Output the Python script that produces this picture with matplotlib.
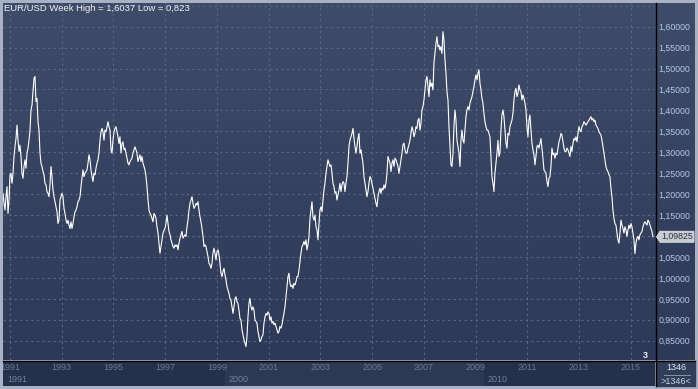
import numpy as np
import pandas as pd
import matplotlib
matplotlib.use("Agg")
import matplotlib.pyplot as plt
import matplotlib.transforms as mtransforms
from matplotlib.colors import LinearSegmentedColormap
from matplotlib.lines import Line2D
from matplotlib.patches import Rectangle, Polygon
from matplotlib.ticker import FuncFormatter

W, H = 698, 389
plt.rcParams["font.family"] = ["Liberation Sans", "DejaVu Sans"]

# ========= EUR/USD (about two weeks per point) =========
rate_1990_95 = [
    1.202, 1.178, 1.162, 1.194, 1.218, 1.154, 1.186, 1.246, 1.250, 1.226,
    1.250, 1.290, 1.314, 1.333, 1.365, 1.329, 1.302, 1.317, 1.290, 1.250,
    1.238, 1.266, 1.282, 1.262, 1.298, 1.310, 1.329, 1.353, 1.401, 1.413,
    1.445, 1.477, 1.481, 1.421, 1.429, 1.373, 1.353, 1.298, 1.274, 1.266,
    1.254, 1.246, 1.226, 1.222, 1.206, 1.202, 1.194, 1.222, 1.266, 1.242,
    1.210, 1.194, 1.182, 1.170, 1.158, 1.130, 1.138, 1.186, 1.194, 1.202,
    1.194, 1.166, 1.154, 1.138, 1.130, 1.138, 1.126, 1.118, 1.134, 1.118,
    1.130, 1.146, 1.158, 1.162, 1.170, 1.182, 1.186, 1.194, 1.218, 1.238,
    1.258, 1.242, 1.250, 1.254, 1.258, 1.274, 1.294, 1.282, 1.258, 1.242,
    1.230, 1.250, 1.246, 1.262, 1.274, 1.282, 1.298, 1.329, 1.349, 1.357,
    1.349, 1.329, 1.353, 1.349, 1.361, 1.373, 1.361, 1.353, 1.306, 1.298,
    1.329, 1.349,
]
rate_1995_99 = [
    1.357, 1.361, 1.349, 1.337, 1.321, 1.337, 1.298, 1.321, 1.325, 1.306,
    1.310, 1.298, 1.286, 1.274, 1.270, 1.278, 1.282, 1.286, 1.298, 1.306,
    1.313, 1.306, 1.298, 1.278, 1.286, 1.294, 1.278, 1.290, 1.274, 1.266,
    1.258, 1.242, 1.218, 1.186, 1.162, 1.154, 1.150, 1.142, 1.134, 1.154,
    1.150, 1.142, 1.122, 1.107, 1.083, 1.059, 1.075, 1.091, 1.107, 1.114,
    1.118, 1.130, 1.150, 1.130, 1.111, 1.103, 1.091, 1.083, 1.075, 1.071,
    1.079, 1.075, 1.079, 1.067, 1.083, 1.095, 1.103, 1.111, 1.095, 1.099,
    1.103, 1.099, 1.122, 1.138, 1.162, 1.178, 1.186, 1.194, 1.178, 1.166,
    1.170, 1.178, 1.174, 1.182, 1.162, 1.146, 1.134, 1.118, 1.099, 1.075,
    1.079, 1.075, 1.063, 1.051, 1.035, 1.031, 1.023, 1.035, 1.059, 1.071,
    1.059, 1.043, 1.063, 1.067,
]
rate_1999_03 = [
    1.055, 1.035, 1.011, 1.003, 1.015, 1.023, 1.007, 0.995, 0.979, 0.971,
    0.963, 0.951, 0.947, 0.931, 0.915, 0.931, 0.951, 0.955, 0.943, 0.939,
    0.923, 0.903, 0.899, 0.876, 0.864, 0.852, 0.844, 0.836, 0.860, 0.907,
    0.939, 0.951, 0.931, 0.923, 0.931, 0.923, 0.899, 0.896, 0.892, 0.872,
    0.860, 0.848, 0.852, 0.860, 0.864, 0.892, 0.907, 0.915, 0.911, 0.919,
    0.915, 0.899, 0.907, 0.892, 0.896, 0.888, 0.892, 0.884, 0.876, 0.868,
    0.872, 0.884, 0.880, 0.888, 0.903, 0.915, 0.931, 0.955, 0.979, 1.003,
    1.011, 0.987, 0.979, 0.983, 0.975, 0.987, 0.983, 0.991, 1.003, 1.003,
    1.019, 1.039, 1.059, 1.075, 1.079, 1.087, 1.079, 1.091, 1.067, 1.079,
    1.099, 1.142, 1.162, 1.182, 1.146, 1.138, 1.150, 1.122, 1.115, 1.091,
    1.130, 1.162, 1.170, 1.158, 1.186, 1.210,
]
rate_2003_07 = [
    1.226, 1.250, 1.266, 1.282, 1.274, 1.266, 1.270, 1.250, 1.226, 1.218,
    1.202, 1.206, 1.186, 1.198, 1.210, 1.226, 1.206, 1.222, 1.230, 1.226,
    1.206, 1.226, 1.242, 1.274, 1.314, 1.329, 1.337, 1.345, 1.357, 1.333,
    1.314, 1.298, 1.314, 1.333, 1.345, 1.298, 1.306, 1.290, 1.274, 1.242,
    1.226, 1.210, 1.194, 1.206, 1.226, 1.242, 1.238, 1.226, 1.214, 1.202,
    1.190, 1.178, 1.170, 1.194, 1.206, 1.214, 1.202, 1.214, 1.210, 1.222,
    1.214, 1.226, 1.250, 1.290, 1.282, 1.274, 1.254, 1.274, 1.282, 1.266,
    1.286, 1.282, 1.274, 1.266, 1.250, 1.266, 1.282, 1.298, 1.318, 1.322,
    1.306, 1.298, 1.298, 1.310, 1.318, 1.329, 1.345, 1.361, 1.353, 1.337,
    1.345, 1.361, 1.357, 1.377, 1.381, 1.353, 1.369, 1.401, 1.409, 1.425,
    1.449, 1.473, 1.481, 1.457, 1.433,
]
rate_2007_11 = [
    1.473, 1.457, 1.465, 1.449, 1.513, 1.536, 1.560, 1.576, 1.552, 1.556,
    1.544, 1.552, 1.536, 1.588, 1.568, 1.521, 1.489, 1.445, 1.425, 1.361,
    1.314, 1.270, 1.266, 1.298, 1.361, 1.401, 1.377, 1.329, 1.314, 1.298,
    1.266, 1.329, 1.353, 1.329, 1.322, 1.353, 1.385, 1.401, 1.409, 1.401,
    1.417, 1.425, 1.433, 1.445, 1.457, 1.473, 1.485, 1.473, 1.489, 1.497,
    1.465, 1.449, 1.429, 1.417, 1.393, 1.373, 1.361, 1.353, 1.353, 1.345,
    1.337, 1.290, 1.242, 1.226, 1.206, 1.250, 1.274, 1.298, 1.329, 1.290,
    1.298, 1.353, 1.389, 1.401, 1.385, 1.353, 1.322, 1.310, 1.345, 1.341,
    1.361, 1.369, 1.377, 1.393, 1.425, 1.445, 1.453, 1.433, 1.441, 1.461,
    1.449, 1.445, 1.425, 1.437, 1.429, 1.417, 1.401, 1.361, 1.337, 1.377,
    1.389, 1.353, 1.322, 1.306, 1.294,
]
rate_2011_15 = [
    1.270, 1.290, 1.314, 1.317, 1.310, 1.321, 1.333, 1.310, 1.286, 1.258,
    1.254, 1.250, 1.230, 1.218, 1.238, 1.242, 1.266, 1.310, 1.294, 1.298,
    1.286, 1.298, 1.294, 1.310, 1.325, 1.333, 1.345, 1.341, 1.325, 1.310,
    1.302, 1.302, 1.310, 1.306, 1.298, 1.290, 1.314, 1.302, 1.321, 1.333,
    1.329, 1.337, 1.325, 1.345, 1.361, 1.353, 1.349, 1.361, 1.365, 1.373,
    1.369, 1.365, 1.369, 1.373, 1.377, 1.381, 1.385, 1.377, 1.381, 1.373,
    1.377, 1.365, 1.361, 1.357, 1.349, 1.345, 1.341, 1.329, 1.314, 1.298,
    1.282, 1.266, 1.258, 1.254, 1.246, 1.242, 1.214, 1.194, 1.162, 1.142,
    1.130, 1.126, 1.107, 1.091, 1.083, 1.107, 1.138, 1.126, 1.118, 1.107,
    1.122, 1.115, 1.099, 1.115, 1.126, 1.118, 1.130, 1.122, 1.107, 1.091,
    1.058, 1.083, 1.095, 1.099, 1.091, 1.103, 1.107, 1.111, 1.122, 1.130,
    1.134, 1.130, 1.126, 1.138, 1.134, 1.126, 1.118, 1.111, 1.09825,
]

rate = rate_1990_95 + rate_1995_99 + rate_1999_03 + rate_2003_07 + rate_2007_11 + rate_2011_15
dates = pd.date_range("1990-09-24", "2015-11-11", periods=len(rate))

TITLE = "EUR/USD Week High = 1,6037 Low = 0,823"
year_ticks = list(range(1991, 2016, 2))
y_ticks = np.round(np.arange(0.85, 1.651, 0.05), 2)
# decade blocks in the lower strip: (start, label)
decades = [("1990-09-24", "1991"), ("1999-04-22", "2000"), ("2009-04-30", "2010")]
decade_colors = ["#25304a", "#2c3854", "#25304a"]
bar_count = "1346"
last_price = rate[-1]


def fx(px):
    return px / W


def fy(py):
    return 1 - py / H


def price_fmt(v, pos):
    # nothing above the top label, and the tick hidden under the price tag
    if v > 1.601 or abs(v - last_price) < 0.02:
        return ""
    return f"{v:.5f}".replace(".", ",")


fig = plt.figure(figsize=(W / 100, H / 100), dpi=100)
fig.patch.set_facecolor("#a9b2c4")

# gradient background behind chart + price column
bg = fig.add_axes([fx(3), fy(360), fx(695) - fx(3), fy(3) - fy(360)])
cmap = LinearSegmentedColormap.from_list("bg", ["#3f4c69", "#2d3956"])
bg.imshow(np.linspace(0, 1, 256).reshape(-1, 1), cmap=cmap, aspect="auto", extent=[0, 1, 0, 1])
bg.set_axis_off()

# ---------- main chart ----------
ax = fig.add_axes([fx(3), fy(360), fx(655) - fx(3), fy(3) - fy(360)])
ax.patch.set_alpha(0)
ax.plot(dates, rate, color="white", lw=0.8, zorder=3)

x0, x1 = pd.Timestamp("1990-09-24"), pd.Timestamp("2015-12-10")
ax.set_xlim(x0, x1)
ax.set_ylim(0.8039, 1.6566)
ax.set_xticks([pd.Timestamp(f"{y}-01-01") for y in year_ticks])
ax.set_yticks(y_ticks)
ax.yaxis.set_major_formatter(FuncFormatter(price_fmt))
ax.yaxis.tick_right()
ax.tick_params(axis="y", length=0, pad=2.3, labelsize=6.3, labelcolor="#b3c8e4")
ax.tick_params(axis="x", length=0, labelbottom=False)
ax.grid(True, color="#5a6783", ls=(0, (2, 3)), lw=0.8)
for s in ax.spines.values():
    s.set_visible(False)

# ---------- bottom time strip ----------
band = fig.add_axes([fx(3), fy(386), fx(655) - fx(3), fy(361) - fy(386)])
band.set_xlim(x0, x1)
band.set_ylim(0, 1)
band.set_axis_off()
edges = [pd.Timestamp(d) for d, _ in decades] + [x1]
for (start, lab), c, e in zip(decades, decade_colors, edges[1:]):
    band.axvspan(pd.Timestamp(start), e, color=c, zorder=0)
    tr = mtransforms.blended_transform_factory(band.transData, band.transAxes) + \
        mtransforms.ScaledTranslation(4 / 100, 0, fig.dpi_scale_trans)
    band.text(pd.Timestamp(start), 0.24, lab, transform=tr, fontsize=6.5,
              color="#75829a", ha="left", va="center")
for y in year_ticks:
    band.text(pd.Timestamp(f"{y}-01-01"), 0.72, str(y), fontsize=6.5, color="#6c7991",
              ha="center", va="center", clip_on=True)

# bar counter box
fig.add_artist(Rectangle((fx(656), fy(386)), fx(695) - fx(656), fy(361) - fy(386),
                         transform=fig.transFigure, color="#313e5a", zorder=1))
fig.text(fx(676), fy(368), bar_count, fontsize=6.5, color="#dfe5ee", ha="center", va="center")
fig.add_artist(Line2D([fx(664), fx(690)], [fy(374.5)] * 2, transform=fig.transFigure,
                      color="#8994a8", lw=0.7))
fig.text(fx(676), fy(381), f">{bar_count}<", fontsize=6.5, color="#c9d2df", ha="center", va="center")

# black separators
fig.add_artist(Line2D([fx(655.5)] * 2, [fy(3), fy(386)], transform=fig.transFigure, color="black", lw=1))
fig.add_artist(Line2D([fx(3), fx(695)], [fy(360.5)] * 2, transform=fig.transFigure, color="black", lw=1))

# title and marker count
fig.text(fx(4), fy(8.5), TITLE, fontsize=6.8, color="#eef1f6", ha="left", va="center")
fig.text(fx(645), fy(355), "3", fontsize=6.5, color="#f0f0f0", ha="center", va="center", weight="bold")

# last price tag
fig.canvas.draw()
yc = ax.transData.transform((0, last_price))[1]
tag = Polygon([(656.5, yc), (660, yc + 5.5), (694, yc + 5.5), (694, yc - 5.5), (660, yc - 5.5)],
              closed=True, transform=None, facecolor="#c8cbd1", edgecolor="#e2e4e8", lw=0.6, zorder=5)
fig.add_artist(tag)
fig.text(677 / W, yc / H, f"{last_price:.5f}".replace(".", ","), fontsize=6.3, color="#263042",
         ha="center", va="center", zorder=6)

fig.savefig("out.png", dpi=100, facecolor=fig.get_facecolor())
